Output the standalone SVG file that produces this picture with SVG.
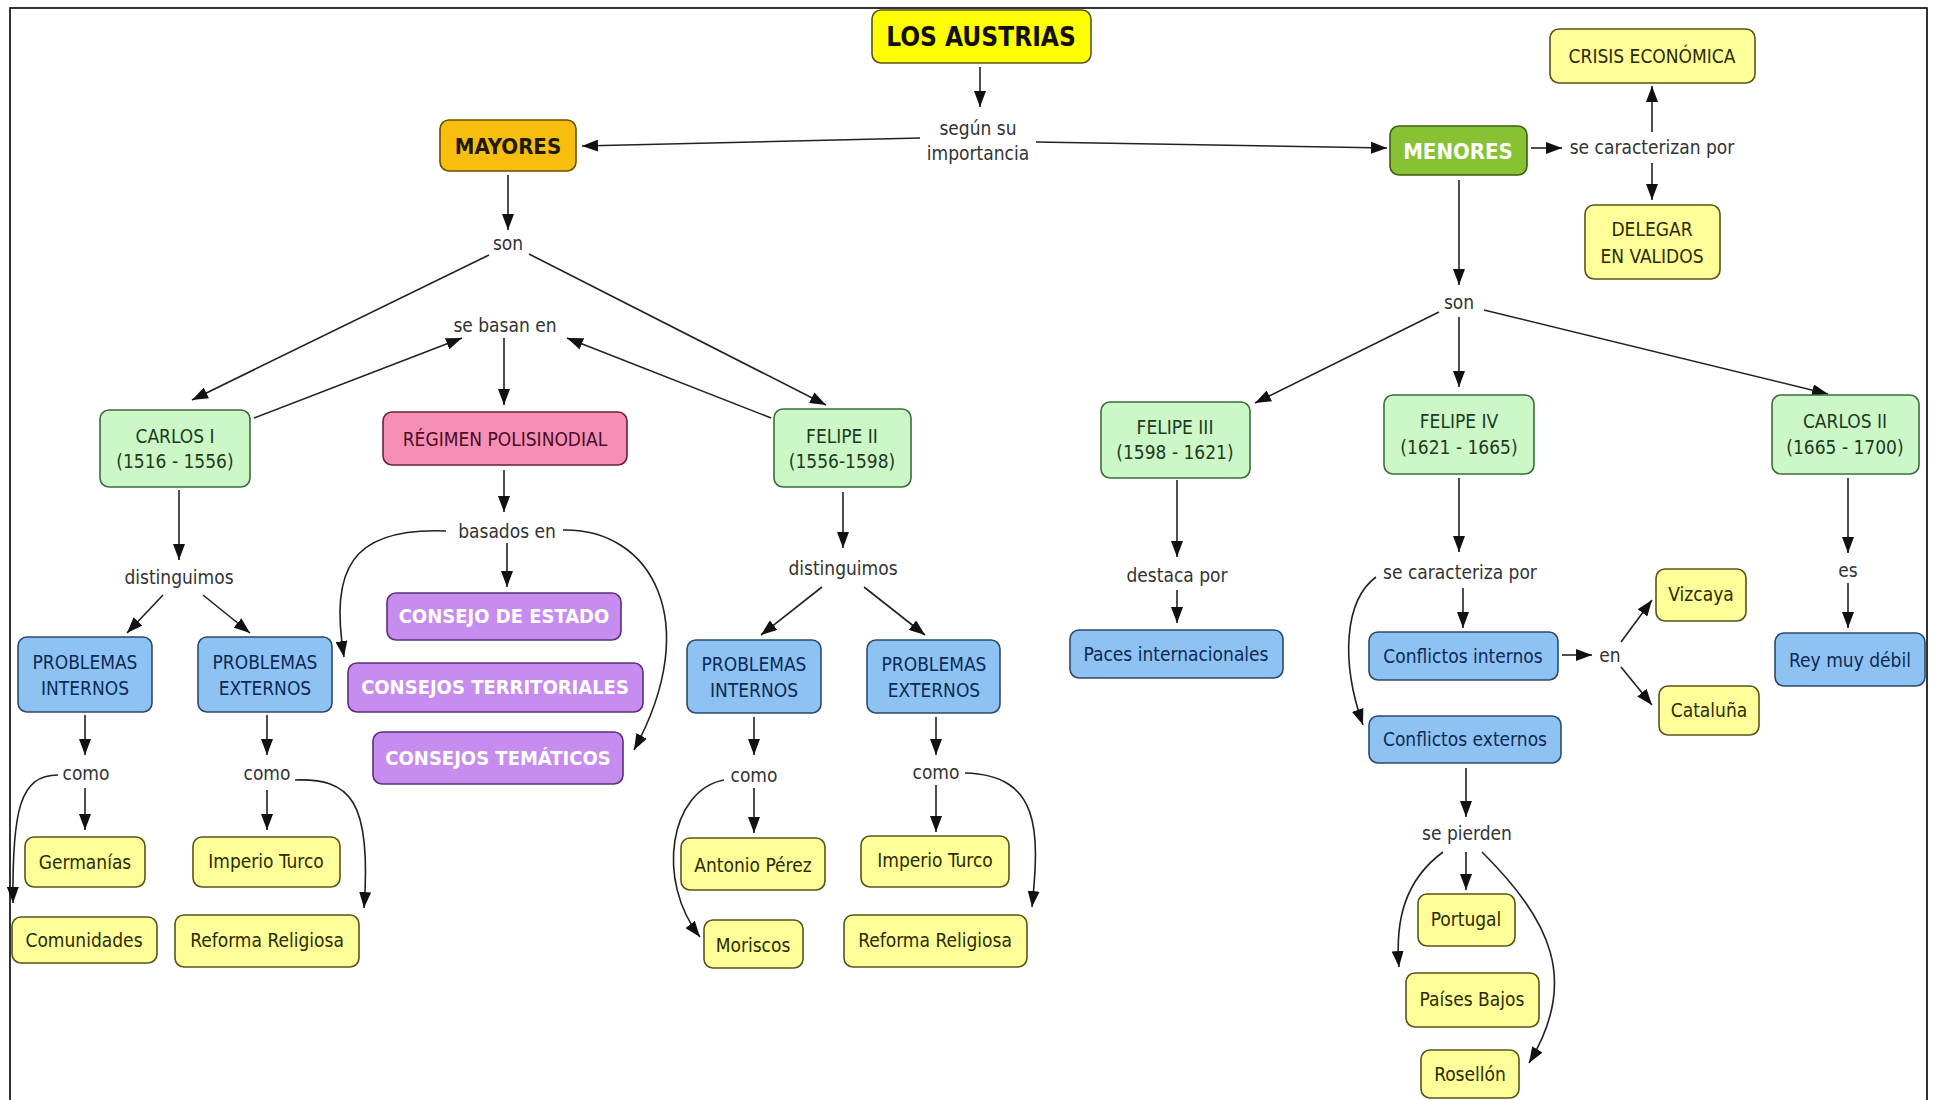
<svg xmlns="http://www.w3.org/2000/svg" width="1941" height="1100" viewBox="0 0 1941 1100">
<defs>
<marker id="ah" viewBox="0 0 16 12" refX="16" refY="6" markerWidth="16" markerHeight="12" markerUnits="userSpaceOnUse" orient="auto"><path d="M0,0 L16,6 L0,12 z" fill="#111"/></marker>
<style>
text{font-family:"DejaVu Sans Condensed","DejaVu Sans",sans-serif;text-anchor:middle;dominant-baseline:central;}
.lk{font-size:19px;fill:#333;}
.nt{font-size:19px;}
.b{font-weight:bold;font-size:20px;}
rect{stroke-width:1.6;}
.yl rect{fill:#FFFF99;stroke:#55551a;} .yl text{fill:#2b2b00;}
.gr rect{fill:#CCF8C8;stroke:#3d6b3d;} .gr text{fill:#1f3a1f;}
.bl rect{fill:#8EC2F2;stroke:#2b4a6b;} .bl text{fill:#0d2a55;}
.pu rect{fill:#C68CF0;stroke:#5a2f7a;} .pu text{fill:#fff;}
.con path{fill:none;stroke:#222;stroke-width:1.6;marker-end:url(#ah);}
</style>
</defs>
<rect x="0" y="0" width="1941" height="1100" fill="#fff"/>
<rect x="10" y="8" width="1917" height="1110" fill="none" stroke="#000" stroke-width="3"/>

<g id="connectors" class="con">
<path d="M980,67 L980,107"/>
<path d="M920,138 L582,146"/>
<path d="M1036,142 L1387,148"/>
<path d="M1531,148 L1562,148"/>
<path d="M1652,132 L1652,86"/>
<path d="M1652,163 L1652,200"/>
<path d="M508,175 L508,230"/>
<path d="M489,255 L192,400"/>
<path d="M529,254 L826,405"/>
<path d="M254,418 L462,338"/>
<path d="M771,418 L567,338"/>
<path d="M504,338 L504,405"/>
<path d="M504,470 L504,512"/>
<path d="M507,543 L507,587"/>
<path d="M446,531 C350,527 330,570 344,657"/>
<path d="M563,530 C650,528 705,620 634,750"/>
<path d="M179,490 L179,560"/>
<path d="M163,595 L127,633"/>
<path d="M203,595 L250,633"/>
<path d="M85,715 L85,755"/>
<path d="M267,715 L267,755"/>
<path d="M85,788 L85,830"/>
<path d="M58,775 C20,775 12,810 13,903"/>
<path d="M267,790 L267,830"/>
<path d="M295,780 C350,778 372,800 364,908"/>
<path d="M843,492 L843,548"/>
<path d="M822,587 L761,635"/>
<path d="M864,587 L925,635"/>
<path d="M754,717 L754,755"/>
<path d="M936,717 L936,755"/>
<path d="M754,788 L754,833"/>
<path d="M724,780 C670,790 655,880 700,937"/>
<path d="M936,785 L936,832"/>
<path d="M965,773 C1040,775 1040,830 1032,907"/>
<path d="M1459,180 L1459,285"/>
<path d="M1439,312 L1255,403"/>
<path d="M1459,317 L1459,387"/>
<path d="M1484,310 L1828,394"/>
<path d="M1177,480 L1177,557"/>
<path d="M1177,590 L1177,623"/>
<path d="M1459,478 L1459,552"/>
<path d="M1463,588 L1463,628"/>
<path d="M1376,577 C1345,600 1340,660 1363,725"/>
<path d="M1562,655 L1592,655"/>
<path d="M1621,642 L1652,600"/>
<path d="M1621,667 L1652,705"/>
<path d="M1848,478 L1848,553"/>
<path d="M1848,583 L1848,628"/>
<path d="M1466,768 L1466,817"/>
<path d="M1466,852 L1466,890"/>
<path d="M1443,852 C1405,880 1395,920 1399,967"/>
<path d="M1482,852 C1550,920 1580,980 1529,1063"/>
</g>

<g id="labels" class="lk">
<text x="978" y="128">según su</text>
<text x="978" y="153">importancia</text>
<text x="508" y="243">son</text>
<text x="505" y="325">se basan en</text>
<text x="507" y="531">basados en</text>
<text x="179" y="577">distinguimos</text>
<text x="843" y="568">distinguimos</text>
<text x="86" y="773">como</text>
<text x="267" y="773">como</text>
<text x="754" y="775">como</text>
<text x="936" y="772">como</text>
<text x="1652" y="147">se caracterizan por</text>
<text x="1459" y="302">son</text>
<text x="1177" y="575">destaca por</text>
<text x="1460" y="572">se caracteriza por</text>
<text x="1610" y="655">en</text>
<text x="1848" y="570">es</text>
<text x="1467" y="833">se pierden</text>
</g>

<g id="n-austrias"><rect x="872" y="10" width="219" height="53" rx="9" fill="#FFFF00" stroke="#55551a"/><text x="981" y="37" style="font-weight:bold;font-size:26px;fill:#111">LOS AUSTRIAS</text></g>
<g id="n-mayores"><rect x="440" y="120" width="136" height="51" rx="9" fill="#F7BE0E" stroke="#6b4e00"/><text x="508" y="146" style="font-weight:bold;font-size:22px;fill:#221a00">MAYORES</text></g>
<g id="n-menores"><rect x="1390" y="126" width="137" height="49" rx="9" fill="#86C232" stroke="#3b5e12"/><text x="1458" y="151" style="font-weight:bold;font-size:22px;fill:#fff">MENORES</text></g>
<g id="n-crisis" class="yl"><rect x="1550" y="29" width="205" height="54" rx="9"/><text class="nt" x="1652" y="56">CRISIS ECONÓMICA</text></g>
<g id="n-delegar" class="yl"><rect x="1585" y="205" width="135" height="74" rx="9"/><text class="nt" x="1652" y="229">DELEGAR</text><text class="nt" x="1652" y="256">EN VALIDOS</text></g>

<g id="n-carlos1" class="gr"><rect x="100" y="410" width="150" height="77" rx="9"/><text class="nt" x="175" y="436">CARLOS I</text><text class="nt" x="175" y="461">(1516 - 1556)</text></g>
<g id="n-regimen"><rect x="383" y="412" width="244" height="53" rx="9" fill="#F58FB3" stroke="#6b2040"/><text class="nt" x="505" y="439" style="fill:#4a0c26">RÉGIMEN POLISINODIAL</text></g>
<g id="n-felipe2" class="gr"><rect x="774" y="409" width="137" height="78" rx="9"/><text class="nt" x="842" y="436">FELIPE II</text><text class="nt" x="842" y="461">(1556-1598)</text></g>
<g id="n-cestado" class="pu"><rect x="387" y="593" width="234" height="47" rx="9"/><text class="b" x="504" y="616">CONSEJO DE ESTADO</text></g>
<g id="n-cterr" class="pu"><rect x="348" y="663" width="295" height="49" rx="9"/><text class="b" x="495" y="687">CONSEJOS TERRITORIALES</text></g>
<g id="n-ctem" class="pu"><rect x="373" y="732" width="250" height="52" rx="9"/><text class="b" x="498" y="758">CONSEJOS TEMÁTICOS</text></g>

<g id="n-pi1" class="bl"><rect x="18" y="637" width="134" height="75" rx="9"/><text class="nt" x="85" y="662">PROBLEMAS</text><text class="nt" x="85" y="688">INTERNOS</text></g>
<g id="n-pe1" class="bl"><rect x="198" y="637" width="134" height="75" rx="9"/><text class="nt" x="265" y="662">PROBLEMAS</text><text class="nt" x="265" y="688">EXTERNOS</text></g>
<g id="n-germanias" class="yl"><rect x="25" y="837" width="120" height="50" rx="9"/><text class="nt" x="85" y="862">Germanías</text></g>
<g id="n-comunidades" class="yl"><rect x="12" y="917" width="145" height="46" rx="9"/><text class="nt" x="84" y="940">Comunidades</text></g>
<g id="n-turco1" class="yl"><rect x="193" y="837" width="147" height="50" rx="9"/><text class="nt" x="266" y="861">Imperio Turco</text></g>
<g id="n-reforma1" class="yl"><rect x="175" y="915" width="184" height="52" rx="9"/><text class="nt" x="267" y="940">Reforma Religiosa</text></g>

<g id="n-pi2" class="bl"><rect x="687" y="640" width="134" height="73" rx="9"/><text class="nt" x="754" y="664">PROBLEMAS</text><text class="nt" x="754" y="690">INTERNOS</text></g>
<g id="n-pe2" class="bl"><rect x="867" y="640" width="133" height="73" rx="9"/><text class="nt" x="934" y="664">PROBLEMAS</text><text class="nt" x="934" y="690">EXTERNOS</text></g>
<g id="n-antonio" class="yl"><rect x="681" y="838" width="144" height="52" rx="9"/><text class="nt" x="753" y="865">Antonio Pérez</text></g>
<g id="n-moriscos" class="yl"><rect x="704" y="920" width="99" height="48" rx="9"/><text class="nt" x="753" y="945">Moriscos</text></g>
<g id="n-turco2" class="yl"><rect x="861" y="836" width="148" height="51" rx="9"/><text class="nt" x="935" y="860">Imperio Turco</text></g>
<g id="n-reforma2" class="yl"><rect x="844" y="915" width="183" height="52" rx="9"/><text class="nt" x="935" y="940">Reforma Religiosa</text></g>

<g id="n-felipe3" class="gr"><rect x="1101" y="402" width="149" height="76" rx="9"/><text class="nt" x="1175" y="427">FELIPE III</text><text class="nt" x="1175" y="452">(1598 - 1621)</text></g>
<g id="n-paces" class="bl"><rect x="1070" y="630" width="213" height="48" rx="9"/><text class="nt" x="1176" y="654">Paces internacionales</text></g>
<g id="n-felipe4" class="gr"><rect x="1384" y="395" width="150" height="79" rx="9"/><text class="nt" x="1459" y="421">FELIPE IV</text><text class="nt" x="1459" y="447">(1621 - 1665)</text></g>
<g id="n-cint" class="bl"><rect x="1369" y="632" width="189" height="48" rx="9"/><text class="nt" x="1463" y="656">Conflictos internos</text></g>
<g id="n-cext" class="bl"><rect x="1369" y="716" width="192" height="47" rx="9"/><text class="nt" x="1465" y="739">Conflictos externos</text></g>
<g id="n-vizcaya" class="yl"><rect x="1656" y="569" width="90" height="52" rx="9"/><text class="nt" x="1701" y="594">Vizcaya</text></g>
<g id="n-cataluna" class="yl"><rect x="1659" y="686" width="100" height="49" rx="9"/><text class="nt" x="1709" y="710">Cataluña</text></g>
<g id="n-carlos2" class="gr"><rect x="1772" y="395" width="147" height="79" rx="9"/><text class="nt" x="1845" y="421">CARLOS II</text><text class="nt" x="1845" y="447">(1665 - 1700)</text></g>
<g id="n-rey" class="bl"><rect x="1775" y="633" width="150" height="53" rx="9"/><text class="nt" x="1850" y="660">Rey muy débil</text></g>
<g id="n-portugal" class="yl"><rect x="1418" y="894" width="97" height="52" rx="9"/><text class="nt" x="1466" y="919">Portugal</text></g>
<g id="n-paises" class="yl"><rect x="1406" y="973" width="133" height="54" rx="9"/><text class="nt" x="1472" y="999">Países Bajos</text></g>
<g id="n-rosellon" class="yl"><rect x="1421" y="1050" width="98" height="48" rx="9"/><text class="nt" x="1470" y="1074">Rosellón</text></g>
</svg>
